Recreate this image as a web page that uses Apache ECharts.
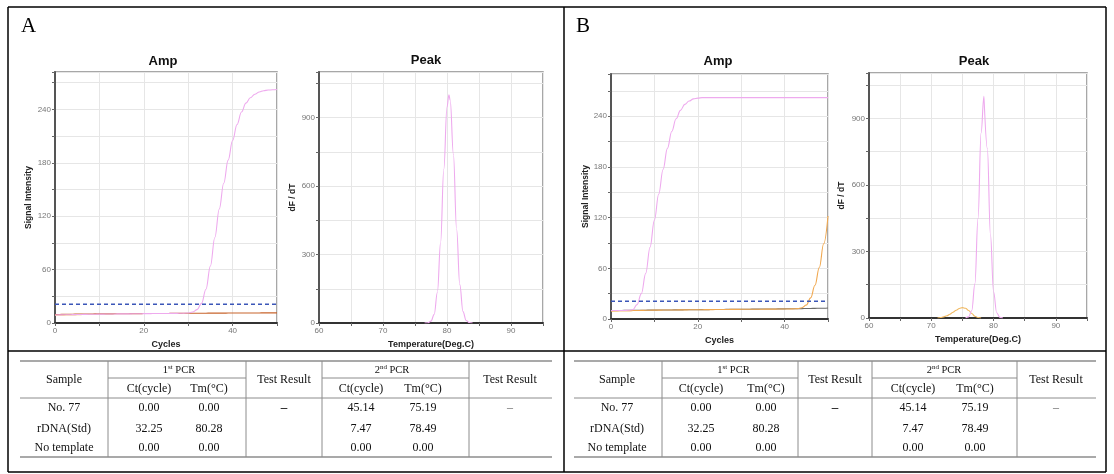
<!DOCTYPE html>
<html>
<head>
<meta charset="utf-8">
<script src="https://cdn.jsdelivr.net/npm/echarts@6/dist/echarts.min.js"></script>
<style>
html,body{margin:0;padding:0;background:#fff;}
#c{width:1114px;height:474px;}
</style>
</head>
<body>
<div id="c"></div>
<script>
// ---------------- DATA ----------------
const cycles = [0,1,2,3,4,5,6,7,8,9,10,11,12,13,14,15,16,17,18,19,20,21,22,23,24,25,26,27,28,29,30,31,32,33,34,35,36,37,38,39,40,41,42,43,44,45,46,47,48,49,50];

// Panel A – amplification (1st PCR)
const ampA_rDNA = [9.0,9.1,9.2,9.3,9.4,9.5,9.6,9.7,9.8,9.9,
  10.0,10.0,10.1,10.1,10.2,10.2,10.3,10.3,10.4,10.4,
  10.5,10.5,10.6,10.6,10.7,10.7,10.8,10.8,10.9,11.0,
  11.3,12.3,15,22,38,64,96,128,157,183,
  205,223,237,247,253,257,259.5,261,261.7,262,262.3];
const ampA_no77 = [9.5,9.6,9.7,9.8,9.9,10.0,10.0,10.1,10.1,10.2,
  10.2,10.3,10.3,10.3,10.4,10.4,10.4,10.5,10.5,10.5,
  10.6,10.6,10.6,10.7,10.7,10.7,10.8,10.8,10.8,10.9,
  10.9,10.9,11.0,11.0,11.0,11.1,11.1,11.1,11.1,11.2,
  11.2,11.2,11.2,11.3,11.3,11.3,11.3,11.4,11.4,11.4,11.4];
const ampA_ntcCycles = [0,1,2,3,4,5,6];
const ampA_ntc = [8.7,8.8,8.9,9.0,9.1,9.2,9.3];
const thresholdA = 21;

// Panel B – amplification (2nd PCR)
const ampB_rDNA = [10.0,10.0,10.0,10.1,10.3,11,17,30,54,85,
  117,148,177,202,222,237,247,254,258,260.5,
  261.5,262,262,262,262,262,262,262,262,262,
  262,262,262,262,262,262,262,262,262,262,
  262,262,262,262,262,262,262,262,262,262,262];
const ampB_no77 = [9.5,9.6,9.7,9.8,9.9,10.0,10.1,10.2,10.3,10.4,
  10.5,10.5,10.6,10.6,10.7,10.7,10.8,10.8,10.9,10.9,
  11.0,11.0,11.1,11.1,11.2,11.2,11.3,11.3,11.4,11.4,
  11.5,11.5,11.5,11.6,11.6,11.6,11.7,11.7,11.7,11.8,
  11.8,11.9,12.0,12.3,13.4,16.5,25,40,61,89,122];
const ampB_ntc = [10.0,10.1,10.1,10.2,10.2,10.3,10.3,10.4,10.4,10.5,
  10.5,10.6,10.6,10.7,10.7,10.8,10.8,10.9,10.9,11.0,
  11.0,11.1,11.1,11.2,11.2,11.3,11.3,11.4,11.4,11.5,
  11.5,11.6,11.6,11.7,11.7,11.8,11.8,11.9,11.9,12.0,
  12.0,12.1,12.1,12.2,12.3,12.4,12.5,12.6,12.7,12.8,13.0];
const ampB_ntcCycles = [0,1,2,3,4,5];
const ampB_yellow = [9.6,9.7,9.7,9.8,9.8,9.9];
const thresholdB = 21;

// Melt peaks
const peakA_temp = [76.5,77,77.5,78,78.5,79,79.5,80,80.3,80.5,81,81.5,82,82.5,83,83.5,84];
const peakA_rDNA = [0,1,8,38,135,353,674,946,1000,976,739,411,168,50,11,2,0];
const peakB_temp = [75.5,76,76.5,77,77.5,78,78.45,78.5,79,79.5,80,80.5,81,81.5];
const peakB_rDNA = [0,5,34,154,448,835,1000,998,764,375,118,24,3,0];
const peakB_no77Temp = [71,71.5,72,72.5,73,73.5,74,74.5,75,75.5,76,76.5,77,77.5,78];
const peakB_no77 = [0,2,5,10,17,26,35,43,47,44,34,20,8,2,0];

// Table
const sampleNames = ['No. 77','rDNA(Std)','No template'];
const pcr1Ct = ['0.00','32.25','0.00'];
const pcr1Tm = ['0.00','80.28','0.00'];
const pcr2Ct = ['45.14','7.47','0.00'];
const pcr2Tm = ['75.19','78.49','0.00'];
const result1 = ['–','',''];
const result2 = ['–','',''];

// ---------------- CHART ----------------
const SANS = '"Liberation Sans", Arial, sans-serif';
const SERIF = '"Liberation Serif", "Times New Roman", serif';
const PINK = '#eeaaee';
const pairs = (xs, ys) => xs.map((x, i) => [x, ys[i]]);

function xAxisCfg(gi, min, max, interval, labelStep, name, gap) {
  return {
    gridIndex: gi, type: 'value', min, max, interval,
    name, nameLocation: 'middle', nameGap: gap,
    nameTextStyle: {fontFamily: SANS, fontWeight: 'bold', fontSize: 9, color: '#222'},
    axisLine: {show: true, onZero: false, lineStyle: {color: '#333', width: 2}},
    axisTick: {show: true, length: 3, lineStyle: {color: '#666'}},
    axisLabel: {fontFamily: SANS, fontSize: 8, color: '#777', margin: 4,
      formatter: v => (Math.abs(v % labelStep) < 1e-6 && v <= max && v >= min && (v - min) % interval === 0) ? String(v) : ''},
    splitLine: {show: true, lineStyle: {color: '#e6e6e6', width: 1}}
  };
}
function yAxisCfg(gi, max, interval, labelStep, name, gap) {
  return {
    gridIndex: gi, type: 'value', min: 0, max, interval,
    name, nameLocation: 'middle', nameGap: gap,
    nameTextStyle: {fontFamily: SANS, fontWeight: 'bold', fontSize: 8.5, color: '#222'},
    axisLine: {show: true, lineStyle: {color: '#555', width: 2}},
    axisTick: {show: true, length: 3, lineStyle: {color: '#666'}},
    axisLabel: {fontFamily: SANS, fontSize: 8, color: '#777', margin: 4,
      formatter: v => (v % labelStep === 0) ? String(v) : ''},
    splitLine: {show: true, lineStyle: {color: '#e6e6e6', width: 1}}
  };
}
function line(xi, yi, data, color, z, extra) {
  return Object.assign({
    type: 'line', xAxisIndex: xi, yAxisIndex: yi, data,
    showSymbol: false, symbol: 'none', smooth: 0.4, smoothMonotone: 'x',
    lineStyle: {color, width: 1.1}, z: z || 2, silent: true, animation: false
  }, extra || {});
}

const grids = [
  {left: 55, top: 72, width: 222, height: 251},
  {left: 319, top: 72, width: 224, height: 251},
  {left: 611, top: 74, width: 217, height: 245},
  {left: 869, top: 73, width: 218, height: 245}
].map(g => Object.assign(g, {show: true, borderColor: '#8a8a8a', borderWidth: 1.5, backgroundColor: '#fff'}));

const xAxes = [
  xAxisCfg(0, 0, 50, 10, 20, 'Cycles', 13),
  xAxisCfg(1, 60, 95, 5, 10, 'Temperature(Deg.C)', 14),
  xAxisCfg(2, 0, 50, 10, 20, 'Cycles', 14),
  xAxisCfg(3, 60, 95, 5, 10, 'Temperature(Deg.C)', 14)
];
const yAxes = [
  yAxisCfg(0, 282, 30, 60, 'Signal Intensity', 22),
  yAxisCfg(1, 1100, 150, 300, 'dF / dT', 22),
  yAxisCfg(2, 290, 30, 60, 'Signal Intensity', 19),
  yAxisCfg(3, 1105, 150, 300, 'dF / dT', 23)
];

const series = [
  // A amp
  line(0, 0, pairs(ampA_ntcCycles, ampA_ntc), '#f2cf7a', 2),
  line(0, 0, pairs(cycles, ampA_no77), '#c8642c', 3),
  line(0, 0, pairs(cycles, ampA_rDNA), PINK, 4),
  line(0, 0, [[0, thresholdA], [50, thresholdA]], '#3b56b8', 5, {smooth: false, lineStyle: {color: '#3b56b8', width: 1.5, type: [4, 3]}}),
  // A peak
  line(1, 1, pairs(peakA_temp, peakA_rDNA), PINK, 3),
  // B amp
  line(2, 2, pairs(cycles, ampB_ntc), '#6a6a6a', 2),
  line(2, 2, pairs(ampB_ntcCycles, ampB_yellow), '#f2cf7a', 2),
  line(2, 2, pairs(cycles, ampB_no77), '#f0a850', 3),
  line(2, 2, pairs(cycles, ampB_rDNA), PINK, 4),
  line(2, 2, [[0, thresholdB], [50, thresholdB]], '#3b56b8', 5, {smooth: false, lineStyle: {color: '#3b56b8', width: 1.5, type: [4, 3]}}),
  // B peak
  line(3, 3, pairs(peakB_no77Temp, peakB_no77), '#f0b860', 2),
  line(3, 3, pairs(peakB_temp, peakB_rDNA), PINK, 3)
];

// ---------- graphics: frame, letters, titles, tables ----------
const g = [];
function L(x1, y1, x2, y2, stroke, w) {
  g.push({type: 'line', shape: {x1, y1, x2, y2}, style: {stroke, lineWidth: w}, silent: true, z: 10});
}
function T(text, x, y, font, fill, align) {
  g.push({type: 'text', x, y, style: {text, font, fill: fill || '#111', textAlign: align || 'center', textVerticalAlign: 'middle'}, silent: true, z: 11});
}
// frame
L(8, 7, 1106, 7, '#000', 1.5);
L(8, 7, 8, 472, '#000', 1.5);
L(564, 7, 564, 472, '#000', 1.5);
L(1106, 7, 1106, 472, '#000', 1.5);
L(8, 472, 1106, 472, '#000', 1.5);
L(8, 351, 1106, 351, '#000', 1.5);
// letters
T('A', 21, 26, '21px ' + SERIF, '#000', 'left');
T('B', 576, 26, '21px ' + SERIF, '#000', 'left');
// chart titles
const titleFont = 'bold 13px ' + SANS;
T('Amp', 163, 61, titleFont, '#111');
T('Peak', 426, 60, titleFont, '#111');
T('Amp', 718, 61, titleFont, '#111');
T('Peak', 974, 61, titleFont, '#111');

function table(x0, x1, vlines, cx) {
  const top = 361, sub = 378, hb = 398, bot = 457;
  const grey = '#8c8c8c';
  L(x0, top, x1, top, grey, 1.5);
  L(x0, hb, x1, hb, grey, 1);
  L(x0, bot, x1, bot, grey, 1.5);
  L(vlines[0], sub, vlines[1], sub, grey, 1);
  L(vlines[2], sub, vlines[3], sub, grey, 1);
  vlines.forEach(v => L(v, top, v, bot, grey, 1));
  const f = '12px ' + SERIF;
  T('Sample', cx[0], 380, f);
  const rich = {n: {font: '10.5px ' + SERIF, fill: '#111', lineHeight: 12, verticalAlign: 'bottom'},
                s: {font: '7px ' + SERIF, fill: '#111', lineHeight: 12, verticalAlign: 'top'}};
  g.push({type: 'text', x: (cx[1] + cx[2]) / 2, y: 370, z: 11, silent: true,
    style: {text: '{n|1}{s|st}{n| PCR}', textAlign: 'center', textVerticalAlign: 'middle', rich}});
  g.push({type: 'text', x: (cx[4] + cx[5]) / 2, y: 370, z: 11, silent: true,
    style: {text: '{n|2}{s|nd}{n| PCR}', textAlign: 'center', textVerticalAlign: 'middle', rich}});
  T('Ct(cycle)', cx[1], 389, f);
  T('Tm(°C)', cx[2], 389, f);
  T('Test Result', cx[3], 380, f);
  T('Ct(cycle)', cx[4], 389, f);
  T('Tm(°C)', cx[5], 389, f);
  T('Test Result', cx[6], 380, f);
  const rowsY = [408, 429, 448];
  sampleNames.forEach((s, i) => {
    const y = rowsY[i];
    T(s, cx[0], y, f);
    T(pcr1Ct[i], cx[1], y, f);
    T(pcr1Tm[i], cx[2], y, f);
    if (result1[i]) T(result1[i], cx[3], y, 'bold 13px ' + SERIF, '#111');
    T(pcr2Ct[i], cx[4], y, f);
    T(pcr2Tm[i], cx[5], y, f);
    if (result2[i]) T(result2[i], cx[6], y, '12px ' + SERIF, '#666');
  });
}
table(20, 552, [108, 246, 322, 469], [64, 149, 209, 284, 361, 423, 510]);
table(574, 1096, [662, 798, 872, 1017], [617, 701, 766, 835, 913, 975, 1056]);

const chart = echarts.init(document.getElementById('c'), null, {renderer: 'canvas'});
chart.setOption({
  animation: false,
  backgroundColor: '#fff',
  grid: grids,
  xAxis: xAxes,
  yAxis: yAxes,
  series,
  graphic: g
});
</script>
</body>
</html>
